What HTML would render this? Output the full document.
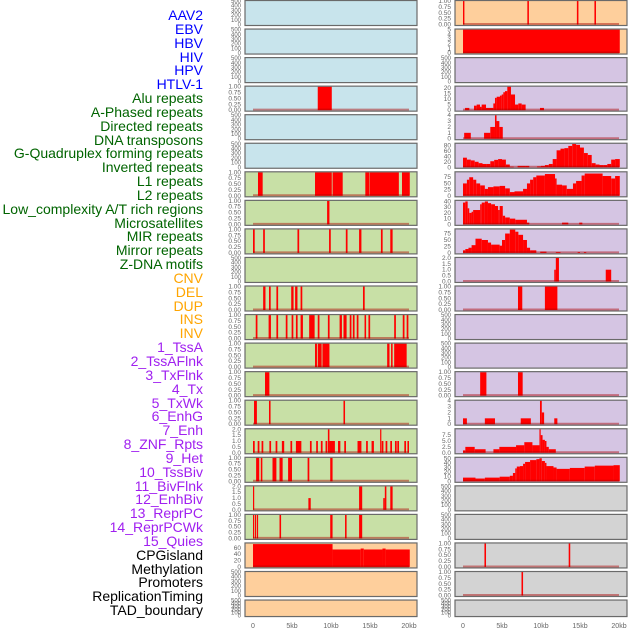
<!DOCTYPE html>
<html><head><meta charset="utf-8">
<style>
html,body{margin:0;padding:0;background:#fff;}
#wrap{position:relative;width:630px;height:630px;overflow:hidden;}
.lbl{position:absolute;right:427px;font:14px "Liberation Sans",sans-serif;white-space:nowrap;line-height:14px;}
</style></head>
<body>
<div id="wrap">
<div id="labels"></div>
<svg id="chart" width="630" height="630" style="position:absolute;left:0;top:0"></svg>
</div>
<script>
// ---- track labels ----
const labelNames = ["AAV2","EBV","HBV","HIV","HPV","HTLV-1","Alu repeats","A-Phased repeats","Directed repeats","DNA transposons","G-Quadruplex forming repeats","Inverted repeats","L1 repeats","L2 repeats","Low_complexity A/T rich regions","Microsatellites","MIR repeats","Mirror repeats","Z-DNA motifs","CNV","DEL","DUP","INS","INV","1_TssA","2_TssAFlnk","3_TxFlnk","4_Tx","5_TxWk","6_EnhG","7_Enh","8_ZNF_Rpts","9_Het","10_TssBiv","11_BivFlnk","12_EnhBiv","13_ReprPC","14_ReprPCWk","15_Quies","CPGisland","Methylation","Promoters","ReplicationTiming","TAD_boundary"];
const labelGroups = [6,13,5,15,5];
const groupColors = ["#0000ff","#006400","#ffa500","#a020f0","#000000"];

// ---- tick sets ----
const t500 = [0,100,200,300,400,500];
const t01 = [0,0.25,0.5,0.75,1];
const t2 = [0,0.5,1,1.5,2];
const t4 = [0,1,2,3,4];
const t5 = [0,1,2,3,4,5];
const t20 = [0,5,10,15,20];
const t40 = [0,10,20,30,40];
const t50 = [0,10,20,30,40,50];
const t60 = [0,20,40,60];
const t80 = [0,20,40,60,80];
const t75 = [0,25,50,75];
const t10 = [0,2.5,5,7.5];

// ---- left column data (segments: start kb, end kb, value) ----
const L4 = [[8.3,10.1,1]];
const L7 = [[0.64,1.24,1],[7.95,10.1,1],[10.2,11.5,1],[14.4,14.9,1],[14.95,18.7,1],[19.1,20.1,1]];
const L8 = [[9.5,9.8,1]];
const L9 = [[0,0.22,1],[1.3,1.52,1],[5.7,5.92,1],[9.75,9.97,1],[11.9,12.12,1],[13.6,13.9,1],[16.4,16.62,1],[17.6,17.9,1]];
const L11 = [[1.3,1.6,1],[2.05,2.27,1],[3.0,3.22,1],[4.9,5.2,1],[5.4,5.7,1],[6.1,6.32,1],[14.1,14.32,1]];
const L12 = [[0.35,0.57,1],[2.0,2.3,1],[3.0,3.22,1],[4.2,4.42,1],[4.95,5.17,1],[5.5,5.72,1],[6.1,6.4,1],[7.2,7.9,1],[8.3,8.52,1],[9.6,9.82,1],[11.1,11.4,1],[11.6,12.0,1],[12.4,12.62,1],[12.8,13.02,1],[13.3,13.52,1],[14.3,14.5,1],[14.8,15.02,1],[18.1,18.32,1],[19.2,19.42,1],[19.7,19.92,1]];
const L13 = [[7.95,8.2,1],[8.3,8.8,1],[8.9,9.8,1],[17.2,17.5,1],[17.7,17.9,1],[18.1,19.7,1]];
const L14 = [[1.54,2.1,1]];
const L15 = [[0.13,0.5,1],[2.05,2.25,1],[11.6,11.8,1]];
const L16 = [[0,0.22,1],[0.6,0.82,1],[1.1,1.32,1],[2.1,2.32,1],[2.9,3.12,1],[3.7,4.0,1],[4.8,5.02,1],[5.5,6.2,1],[7.3,7.52,1],[8.1,8.32,1],[8.7,8.92,1],[9.3,9.52,1],[9.6,9.8,2],[9.8,10.5,1],[10.9,11.2,1],[11.7,11.92,1],[13.4,13.9,1],[14.5,14.72,1],[15.2,15.5,1],[16.3,16.45,2],[16.5,16.72,1],[17.0,17.22,1],[17.6,17.82,1],[18.2,18.42,1],[18.5,18.72,1],[19.4,19.62,1],[19.8,20.0,1]];
const L17 = [[0.4,0.8,1],[1.0,1.2,1],[2.5,3.0,1],[3.4,3.8,1],[4.5,5.0,1],[7.0,7.22,1],[9.9,10.2,1]];
const L18 = [[0,0.15,2],[7.1,7.4,1],[13.6,14.0,2],[16.7,16.9,1],[16.9,17.1,2],[17.6,17.9,2]];
const L19 = [[0,0.15,1],[0.25,0.4,1],[0.5,0.65,1],[3.4,3.6,1],[9.9,10.2,1],[11.8,12.0,1],[13.6,14.0,1]];
const L20 = [[0,10.2,72],[10.2,13.8,55],[13.8,14.2,58],[14.2,16.6,55],[16.6,17,58],[17,20.1,55]];

// ---- right column data ----
const R1 = [[0,0.18,1],[8.25,8.45,1],[14.6,14.8,1],[16.85,17.05,1]];
const R2 = [[0,20.1,5]];
const R4 = [[0.26,0.81,2],[1.41,1.75,4],[1.75,2.18,5],[2.18,2.39,3],[2.39,2.95,5],[2.95,3.89,2],[3.89,4.1,6],[4.1,4.32,11],[4.32,4.74,12],[4.74,4.96,13],[4.96,5.17,14],[5.17,5.38,16],[5.38,5.68,17],[5.68,6.15,21],[6.15,6.67,14],[6.67,7.09,5],[7.09,7.52,6],[7.52,8.03,5],[9.87,10.38,2]];
const R5 = [[0.15,1.0,1],[2.7,3.5,1],[3.5,4.1,2],[4.1,4.3,4],[4.3,4.66,3],[4.66,5.1,2]];
const R6vals = [35,28,25,20,15,12,12,22,27,30,28,10,2,0,5,5,5,0,0,3,5,8,12,30,62,68,70,78,85,82,72,52,45,15,10,8,8,12,28,30];
const R7 = [[0,0.5,50],[0.5,0.8,65],[0.8,1.3,75],[1.3,1.7,65],[1.7,2.2,50],[2.2,2.8,42],[2.8,3.2,28],[3.2,3.9,35],[3.9,4.7,38],[4.7,5.4,40],[5.4,6,30],[6,6.6,15],[6.6,7.7,18],[7.7,8.2,28],[8.2,8.6,50],[8.6,9.0,65],[9.0,9.4,75],[9.4,10.5,82],[10.5,11.8,88],[11.8,12,70],[12,12.7,45],[12.7,13.3,42],[13.3,14.1,28],[14.1,14.5,50],[14.5,15.2,60],[15.2,15.6,82],[15.6,17.9,90],[17.9,19,80],[19,19.5,70],[19.5,20.1,80]];
const R8 = [[0,0.3,38],[0.3,0.6,40],[0.6,0.8,28],[0.8,1.1,20],[1.1,1.3,22],[1.3,2.2,25],[2.2,2.4,35],[2.4,2.8,38],[2.8,3.2,40],[3.2,3.6,37],[3.6,4.1,35],[4.1,4.5,32],[4.5,4.7,25],[4.7,5.1,32],[5.1,5.4,15],[5.4,6,12],[6,6.7,10],[6.7,8.2,8],[8.2,8.5,3],[12.7,13.5,3],[14.9,15.3,3]];
const R9 = [[0,0.3,10],[0.3,0.7,15],[0.7,1.1,20],[1.1,1.6,30],[1.6,2.4,55],[2.4,3.2,50],[3.2,3.6,40],[3.6,4.7,32],[4.7,5,28],[5,5.4,50],[5.4,6,75],[6,6.7,90],[6.7,7.1,82],[7.1,7.7,70],[7.7,8.2,50],[8.2,8.6,20],[8.6,9.4,10],[9.9,10.7,5],[11.9,12.5,3],[14.7,15,3],[15.5,15.8,3]];
const R10 = [[11.7,11.9,1],[11.9,12.3,2],[18.3,19,1]];
const R11 = [[7.05,7.6,1],[10.5,12.1,1]];
const R14 = [[2.2,3.0,1],[7.05,7.65,1]];
const R15 = [[0,0.5,1],[2.8,4.1,1],[7.4,8.7,1],[9.87,10.1,4],[10.1,10.4,2],[11.7,12.1,1]];
const R16 = [[0,0.3,1],[0.3,1.5,2.5],[1.5,2.9,1.5],[3.9,4.66,1.5],[4.66,6.8,2.5],[6.8,7.86,3.2],[7.86,8.9,4.5],[8.9,9.8,3.2],[9.8,9.96,10],[9.96,10.2,7.5],[10.2,10.5,5.5],[10.5,10.7,5],[10.7,11.0,2.5],[11.0,11.9,1.5]];
const R17 = [[0,1.6,8],[1.6,2.8,6],[2.8,4.7,8],[4.7,6,10],[6,6.4,12],[6.4,6.7,18],[6.7,6.9,28],[6.9,7.3,32],[7.3,7.7,33],[7.7,7.96,38],[7.96,8.6,42],[8.6,9.4,46],[9.4,9.8,48],[9.8,10.1,50],[10.1,10.5,44],[10.5,10.7,40],[10.7,11.6,33],[11.6,12,30],[12,13.7,27],[13.7,15.6,29],[15.6,16.9,32],[16.9,19.3,34],[19.3,20.1,35]];
const R20 = [[2.75,2.95,1],[13.55,13.75,1]];
const R21 = [[7.5,7.7,1]];

const xTicks = [0,5,10,15,20];
const xTickLabels = ["0","5kb","10kb","15kb","20kb"];

function binsToSegs(vals, w){ const s=[]; vals.forEach((v,i)=>{ s.push([i*w,(i+1)*w+(i===vals.length-1?0.1:0),v]); }); return s; }

const BLUE="#c8e4ec", GREEN="#c8e0a6", ORANGE="#fecf9c", PURPLE="#d5c5e3", GRAY="#d3d3d3";
// panels: [column, row, bg, data, ymax, ticks, tickDecimals]
const panels = [
 [0,0,BLUE,null,500,t500,0],[0,1,BLUE,null,500,t500,0],[0,2,BLUE,null,500,t500,0],
 [0,3,BLUE,L4,1,t01,2],[0,4,BLUE,null,500,t500,0],[0,5,BLUE,null,500,t500,0],
 [0,6,GREEN,L7,1,t01,2],[0,7,GREEN,L8,1,t01,2],[0,8,GREEN,L9,1,t01,2],[0,9,GREEN,null,500,t500,0],
 [0,10,GREEN,L11,1,t01,2],[0,11,GREEN,L12,1,t01,2],[0,12,GREEN,L13,1,t01,2],[0,13,GREEN,L14,1,t01,2],
 [0,14,GREEN,L15,1,t01,2],[0,15,GREEN,L16,2,t2,1],[0,16,GREEN,L17,1,t01,2],[0,17,GREEN,L18,2,t2,1],
 [0,18,GREEN,L19,1,t01,2],[0,19,ORANGE,L20,74,t60,0],[0,20,ORANGE,null,500,t500,0],[0,21,ORANGE,null,500,t500,0],
 [1,0,ORANGE,R1,1,t01,2],[1,1,ORANGE,R2,5,t5,0],[1,2,PURPLE,null,500,t500,0],[1,3,PURPLE,R4,21,t20,0],
 [1,4,PURPLE,R5,4,t4,0],[1,5,PURPLE,binsToSegs(R6vals,0.5),86,t80,0],[1,6,PURPLE,R7,95,t75,0],[1,7,PURPLE,R8,41,t40,0],
 [1,8,PURPLE,R9,91,t75,0],[1,9,PURPLE,R10,2,t2,1],[1,10,PURPLE,R11,1,t01,2],[1,11,PURPLE,null,500,t500,0],
 [1,12,PURPLE,null,500,t500,0],[1,13,PURPLE,R14,1,t01,2],[1,14,PURPLE,R15,4,t4,0],[1,15,PURPLE,R16,10,t10,1],
 [1,16,PURPLE,R17,51,t50,0],[1,17,GRAY,null,500,t500,0],[1,18,GRAY,null,500,t500,0],[1,19,GRAY,R20,1,t01,2],
 [1,20,GRAY,R21,1,t01,2],[1,21,GRAY,null,500,t500,0]
];

// labels
const labWrap = document.getElementById('labels');
let gi=0, gc=0;
labelNames.forEach((n,i)=>{
  if(gc>=labelGroups[gi]){gi++;gc=0;}
  gc++;
  const d=document.createElement('div');
  d.className='lbl';
  d.textContent=n;
  d.style.top=(15+i*13.84-7)+'px';
  d.style.color=groupColors[gi];
  
  
  labWrap.appendChild(d);
});

const NS="http://www.w3.org/2000/svg";
const svg=document.getElementById('chart');
function mk(tag,attrs,parent){const e=document.createElementNS(NS,tag);for(const k in attrs)e.setAttribute(k,attrs[k]);(parent||svg).appendChild(e);return e;}
const colX=[245,455], PW=172, KB=7.8;

panels.forEach(p=>{
  const [col,row,bg,data,ymax,ticks,dec]=p;
  const px=colX[col], py=0.5+row*28.55, ph=(row===21?16.5:25);
  const x0=px+8;
  const xs=kb=>x0+kb*KB;
  const ys=v=>py+ph-1-(v/ymax)*(ph-1.5);
  const g=mk('g',{});
  
  
  const r=mk('rect',{x:px,y:py,width:PW,height:ph,fill:bg},g);
  
  
  if(data){
    data.forEach(s=>{
      if(s[2]<=0) return;
      const b=mk('rect',{x:xs(s[0]),y:ys(s[2]),width:Math.max(1.2,xs(s[1])-xs(s[0])),height:ys(0)-ys(s[2]),fill:'#ff0000'},g);
      
      
    });
    const bl=mk('line',{x1:xs(0),x2:xs(20),y1:py+ph-1.5,y2:py+ph-1.5,stroke:'rgba(170,0,0,0.45)','stroke-width':2},g);
    
    
  }
  const fr=mk('rect',{x:px,y:py,width:PW,height:ph,fill:'none',stroke:'#6a6a6a','stroke-width':1.2},g);
  
  
  ticks.forEach(t=>{
    const tx=mk('text',{x:px-4,y:ys(t)+2,'text-anchor':'end','font-family':'Liberation Sans, sans-serif','font-size':(ymax===500?6:6.5),fill:'#666'},g);
    tx.textContent=t.toFixed(dec);
    
    
  });
});

// x axes
[0,1].forEach(c=>{
  xTicks.forEach((t,i)=>{
    const tx=mk('text',{x:colX[c]+8+t*KB,y:628,'text-anchor':'middle','font-family':'Liberation Sans, sans-serif','font-size':7,fill:'#666'});
    tx.textContent=xTickLabels[i];
    
    
  });
});
</script>
</body></html>
